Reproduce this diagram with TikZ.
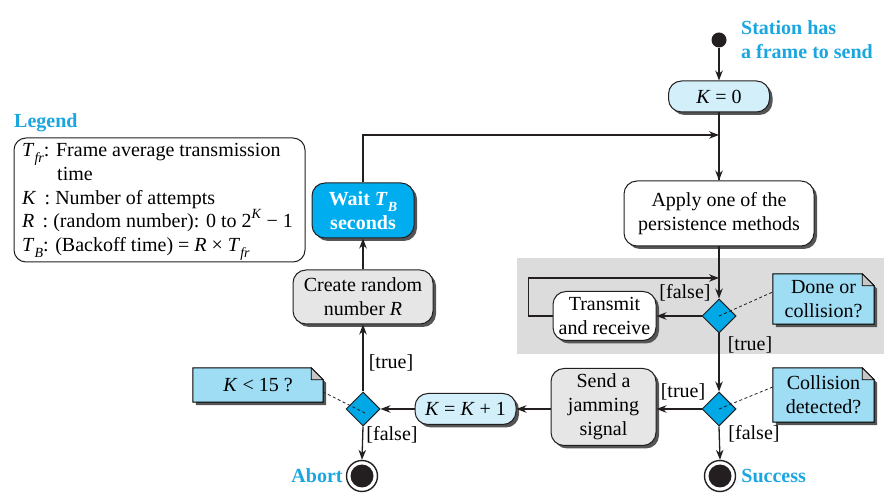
\documentclass[tikz,border=0pt]{standalone}
\usepackage{fontspec}
\setmainfont{Liberation Serif}
\usetikzlibrary{shapes.geometric,shadows,arrows.meta,calc}
\definecolor{cyantext}{HTML}{1BA6E0}
\definecolor{diafill}{HTML}{00A8E6}
\definecolor{waitfill}{HTML}{00AEEF}
\definecolor{notefill}{HTML}{9FDDF5}
\definecolor{lightblue}{HTML}{D3EFFA}
\definecolor{boxgray}{HTML}{E6E6E6}
\definecolor{bggray}{HTML}{DCDCDC}
\definecolor{shadowgray}{HTML}{555555}
\definecolor{ink}{HTML}{231F20}
\pgfdeclarelayer{back}
\pgfdeclarelayer{mid}
\pgfsetlayers{back,mid,main}
\newcommand\smallsub[1]{\raisebox{-0.3em}{\fontsize{14}{14}\selectfont\textit{#1}}}
\newcommand\smallsup[1]{\raisebox{0.45em}{\fontsize{14}{14}\selectfont\textit{#1}}}
\newcommand\drawnote[1]{%
\begin{pgfonlayer}{mid}
\fill[shadowgray] ([xshift=3pt,yshift=-3pt]#1.south west) -- ([xshift=3pt,yshift=-3pt]#1.north west) -- ([xshift=-9pt,yshift=-3pt]#1.north east) -- ([xshift=3pt,yshift=-15pt]#1.north east) -- ([xshift=3pt,yshift=-3pt]#1.south east) -- cycle;
\draw[line width=1pt, fill=notefill] (#1.south west) -- (#1.north west) -- ([xshift=-12pt]#1.north east) -- ([yshift=-12pt]#1.north east) -- (#1.south east) -- cycle;
\draw[line width=0.6pt, fill=gray!45] ([xshift=-12pt]#1.north east) -- ([xshift=-12pt,yshift=-12pt]#1.north east) -- ([yshift=-12pt]#1.north east) -- cycle;
\end{pgfonlayer}}
\begin{document}
\begin{tikzpicture}[x=1pt,y=-1pt,
  font=\fontsize{20}{24}\selectfont,
  box/.style={draw=ink, line width=1pt, rounded corners=13pt, align=center, inner sep=0pt,
    drop shadow={shadow xshift=3pt, shadow yshift=-3pt, fill=shadowgray, opacity=1}},
  dia/.style={diamond, draw=ink, line width=1pt, fill=diafill, minimum width=34pt, minimum height=34pt, inner sep=0pt},
  notebase/.style={minimum width=#1, align=center, inner sep=0pt},
  arr/.style={draw=ink, line width=1.3pt, -{Stealth[length=10pt,width=7.5pt]}},
  plain/.style={draw=ink, line width=1.3pt},
  guard/.style={inner sep=0pt},
  notelink/.style={draw=ink, line width=0.8pt, dash pattern=on 3pt off 2.5pt},
  lbl/.style={font=\bfseries\fontsize{20}{24}\selectfont, text=cyantext, align=left, inner sep=0pt},
  endnode/.style={circle, draw=ink, line width=1.4pt, minimum size=31pt, inner sep=0pt},
  legline/.style={anchor=base west, inner sep=0pt}
]
\useasboundingbox (0,0) rectangle (892,502);
\begin{pgfonlayer}{back}
\fill[bggray] (517,258) rectangle (884,354);
\end{pgfonlayer}

% start
\node[circle, fill=ink, minimum size=15pt, inner sep=0pt] (start) at (719,40) {};
\node[lbl, anchor=west] (startlbl) at (741,40) {Station has\\a frame to send};

\node[box, fill=lightblue, minimum width=101pt, minimum height=31pt] (k0) at (719,96.5) {\textit{K} = 0};
\node[box, fill=white, minimum width=190pt, minimum height=65pt] (apply) at (719,213.5) {Apply one of the\\persistence methods};
\node[dia] (d1) at (719,316) {};
\node[box, fill=white, minimum width=103pt, minimum height=49pt] (trans) at (604.5,316) {Transmit\\and receive};
\node[dia] (d2) at (719,409) {};
\node[box, fill=boxgray, minimum width=105pt, minimum height=77pt] (send) at (603.5,407) {Send a\\jamming\\signal};
\node[box, fill=lightblue, minimum width=101pt, minimum height=31pt] (kk) at (465.5,409) {\textit{K} = \textit{K} + 1};
\node[dia] (d3) at (363,409) {};
\node[box, fill=boxgray, minimum width=140pt, minimum height=54pt] (create) at (363,297) {Create random\\number \textit{R}};
\node[box, fill=waitfill, text=white, font=\bfseries\fontsize{20}{24}\selectfont, minimum width=102pt, minimum height=55pt] (wait) at (363,210.5) {Wait \textit{T}\smallsub{B}\\seconds};

% end nodes
\node[endnode] (succ) at (720,476) {};
\fill[ink] (succ.center) circle (11.5pt);
\node[endnode] (abort) at (362,476) {};
\fill[ink] (abort.center) circle (11.5pt);
\node[lbl, anchor=west] (succlbl) at ([xshift=5pt]succ.east) {Success};
\node[lbl, anchor=east] (abortlbl) at ([xshift=-3pt]abort.west) {Abort};

% notes
\node[notebase=101pt, minimum height=50pt] (n1) at (823.5,299) {Done or\\collision?};
\drawnote{n1}
\node[notebase=101pt, minimum height=54pt] (n2) at (823.5,395) {Collision\\detected?};
\drawnote{n2}
\node[notebase=130pt, minimum height=34pt] (n3) at (258,385) {\textit{K} < 15 ?};
\drawnote{n3}

% legend
\node[lbl, anchor=base west] (leghead) at (14,128) {Legend};
\node[draw=ink, line width=1pt, rounded corners=12pt, minimum width=291pt, minimum height=124pt, inner sep=0pt] (legend) at (159.5,200) {};
\node[legline] (l1) at (22,157) {\textit{T}\smallsub{fr}: Frame average transmission};
\node[legline] (l2) at (57,181) {time};
\node[legline] (l3) at (22,205) {\textit{K} \,: Number of attempts};
\node[legline] (l4) at (22,228) {\textit{R} \,: (random number): 0 to 2\smallsup{K} − 1};
\node[legline] (l5) at (22,252) {\textit{T}\smallsub{B}: (Backoff time) = \textit{R} × \textit{T}\smallsub{fr}};

% connectors
\coordinate (j1) at (719,135);
\coordinate (j2) at (719,278);
\draw[arr] (start) -- (k0);
\draw[plain] (k0.south) -- (apply.north);
\draw[arr] (j1) -- (apply.north);
\draw[arr] (wait.north) |- (j1);
\draw[arr] (apply.south) -- (d1.north);
\draw[arr] (trans.west) -- ++(-24,0) |- (j2);
\draw[arr] (d1.west) -- (trans.east);
\draw[arr] (d1.south) -- (d2.north);
\draw[arr] (d2.west) -- (d2.west -| send.east);
\draw[arr] (d2.south) -- (succ.north);
\draw[arr] (send.west |- kk.east) -- (kk.east);
\draw[arr] (kk.west) -- (d3.east);
\draw[arr] (d3.north) -- (create.south);
\draw[arr] (d3.south) -- (abort.north);
\draw[arr] (create.north) -- (wait.south);

% dashed note links
\draw[notelink] (d1.center) -- ([yshift=7pt]n1.west);
\draw[notelink] (d2.center) -- ([yshift=8pt]n2.west);
\draw[notelink] ([xshift=2pt,yshift=-4pt]d3.center) -- ([yshift=-7pt]n3.east);

% guard labels
\node[guard] (g1) at (685,293) {[false]};
\node[guard] (g2) at (750,345) {[true]};
\node[guard] (g3) at (683,392) {[true]};
\node[guard] (g4) at (754,434) {[false]};
\node[guard] (g5) at (391,363) {[true]};
\node[guard] (g6) at (392,435) {[false]};
\end{tikzpicture}
\end{document}
